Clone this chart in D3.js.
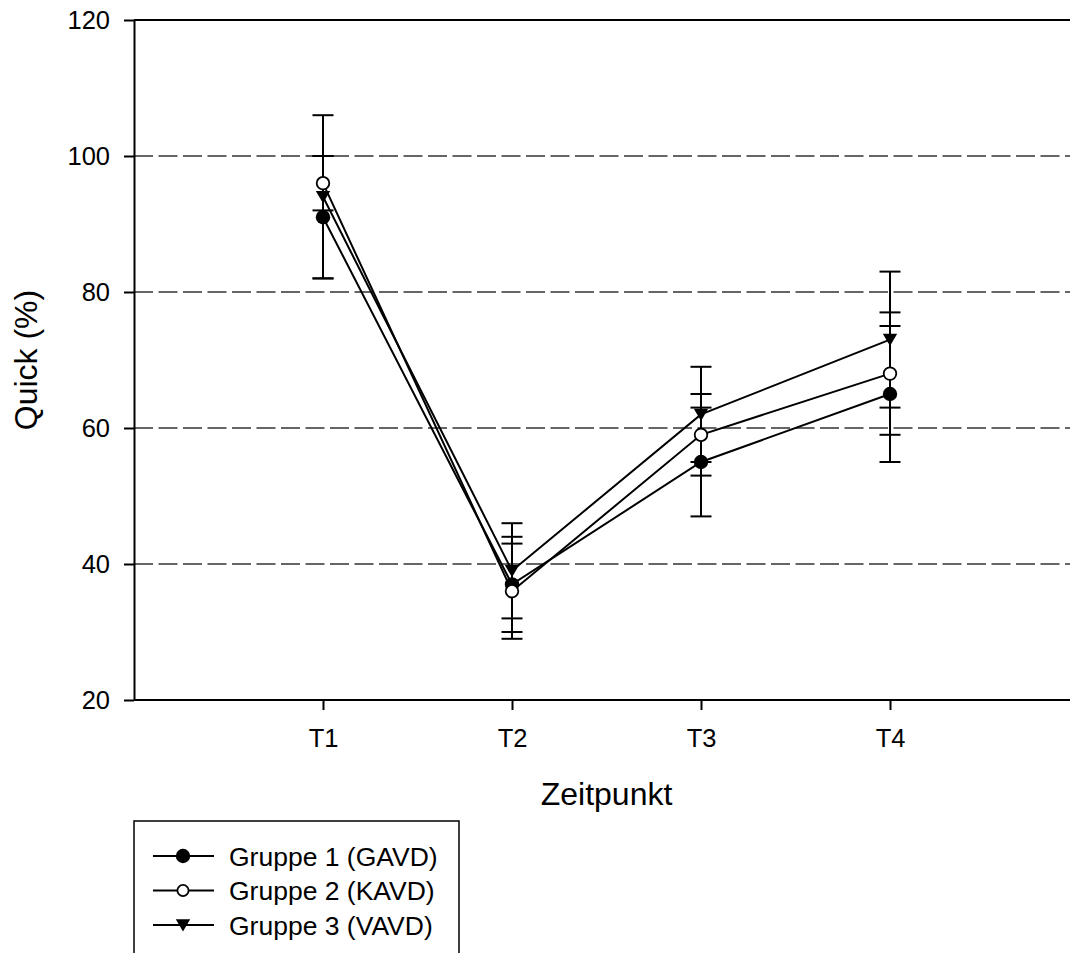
<!DOCTYPE html>
<html>
<head>
<meta charset="utf-8">
<script src="https://cdn.jsdelivr.net/npm/d3@7"></script>
<style>
  body { margin: 0; background: #fff; }
  svg { display: block; font-family: Arial, "Liberation Sans", sans-serif; }
</style>
</head>
<body>
<svg class="chart" width="1070" height="953"></svg>
<script>
// data
const timepoints = ['T1', 'T2', 'T3', 'T4'];
const groupNames = ['Gruppe 1 (GAVD)', 'Gruppe 2 (KAVD)', 'Gruppe 3 (VAVD)'];
const gavdMean = [91, 37, 55, 65];
const gavdErr = [9, 7, 8, 10];
const kavdMean = [96, 36, 59, 68];
const kavdErr = [4, 7, 6, 9];
const vavdMean = [94, 39, 62, 73];
const vavdErr = [12, 7, 7, 10];
const yTicks = [20, 40, 60, 80, 100, 120];
const gridValues = [40, 60, 80, 100];

const series = [
    { name: groupNames[0], mean: gavdMean, err: gavdErr, symbol: 'filled' },
    { name: groupNames[1], mean: kavdMean, err: kavdErr, symbol: 'open' },
    { name: groupNames[2], mean: vavdMean, err: vavdErr, symbol: 'triangle' }
];

const svg = d3.select('svg.chart');
const W = 1070;

const x = d3.scaleLinear().domain([0, timepoints.length + 1]).range([134, 1079]);
const y = d3.scaleLinear().domain([20, 120]).range([700, 20]);

// dashed grid lines
svg.append('g')
    .selectAll('line')
    .data(gridValues)
    .join('line')
    .attr('x1', x(0))
    .attr('x2', W)
    .attr('y1', (d) => y(d))
    .attr('y2', (d) => y(d))
    .attr('stroke', '#333')
    .attr('stroke-width', 1.6)
    .attr('stroke-dasharray', '19,5.5');

// top border
svg.append('line')
    .attr('x1', x(0)).attr('x2', W)
    .attr('y1', y(120)).attr('y2', y(120))
    .attr('stroke', '#000').attr('stroke-width', 2);

// y axis
const yAxis = svg.append('g')
    .attr('transform', `translate(${x(0)},0)`)
    .call(d3.axisLeft(y).tickValues(yTicks).tickSize(10).tickSizeOuter(0).tickPadding(14));
yAxis.selectAll('path, line').attr('stroke', '#000').attr('stroke-width', 2);
yAxis.selectAll('text').attr('font-size', 25.5).attr('fill', '#000')
    .attr('font-family', 'Arial, "Liberation Sans", sans-serif');

// x axis
const xAxis = svg.append('g')
    .attr('transform', `translate(0,${y(20)})`)
    .call(d3.axisBottom(x)
        .tickValues(timepoints.map((t, i) => i + 1))
        .tickFormat((d) => timepoints[d - 1])
        .tickSize(10).tickSizeOuter(0).tickPadding(19));
xAxis.select('.domain').attr('d', `M${x(0)},0H${W}`);
xAxis.selectAll('path, line').attr('stroke', '#000').attr('stroke-width', 2);
xAxis.selectAll('text').attr('font-size', 25.5).attr('fill', '#000')
    .attr('font-family', 'Arial, "Liberation Sans", sans-serif');

// axis titles
svg.append('text')
    .attr('x', (x(0) + x(timepoints.length + 1)) / 2)
    .attr('y', 805)
    .attr('text-anchor', 'middle')
    .attr('font-size', 32)
    .text('Zeitpunkt');

svg.append('text')
    .attr('transform', `translate(37,${(y(20) + y(120)) / 2}) rotate(-90)`)
    .attr('text-anchor', 'middle')
    .attr('font-size', 32)
    .text('Quick (%)');

// lines
const line = d3.line()
    .x((d, i) => x(i + 1))
    .y((d) => y(d));

svg.append('g')
    .selectAll('path')
    .data(series)
    .join('path')
    .attr('d', (s) => line(s.mean))
    .attr('fill', 'none')
    .attr('stroke', '#000')
    .attr('stroke-width', 2);

// error bars
const capHalf = 10.5;
series.forEach((s) => {
    const g = svg.append('g').attr('stroke', '#000').attr('stroke-width', 2);
    const pts = s.mean.map((m, i) => ({ i: i + 1, lo: m - s.err[i], hi: m + s.err[i] }));
    g.selectAll('.error-line')
        .data(pts)
        .join('line')
        .attr('class', 'error-line')
        .attr('x1', (d) => x(d.i)).attr('x2', (d) => x(d.i))
        .attr('y1', (d) => y(d.lo)).attr('y2', (d) => y(d.hi));
    g.selectAll('.cap-lo')
        .data(pts)
        .join('line')
        .attr('class', 'cap-lo')
        .attr('x1', (d) => x(d.i) - capHalf).attr('x2', (d) => x(d.i) + capHalf)
        .attr('y1', (d) => y(d.lo)).attr('y2', (d) => y(d.lo));
    g.selectAll('.cap-hi')
        .data(pts)
        .join('line')
        .attr('class', 'cap-hi')
        .attr('x1', (d) => x(d.i) - capHalf).attr('x2', (d) => x(d.i) + capHalf)
        .attr('y1', (d) => y(d.hi)).attr('y2', (d) => y(d.hi));
});

// markers
function drawMarker(g, type, cx, cy, r) {
    if (type === 'triangle') {
        g.append('path')
            .attr('d', `M${cx - r},${cy - r * 0.8}L${cx + r},${cy - r * 0.8}L${cx},${cy + r * 0.9}Z`)
            .attr('fill', '#000');
    } else if (type === 'filled') {
        g.append('circle')
            .attr('cx', cx).attr('cy', cy).attr('r', r)
            .attr('fill', '#000');
    } else {
        g.append('circle')
            .attr('cx', cx).attr('cy', cy).attr('r', r - 0.9)
            .attr('fill', '#fff')
            .attr('stroke', '#000')
            .attr('stroke-width', 1.8);
    }
}

const markers = svg.append('g');
series.forEach((s) => {
    s.mean.forEach((m, i) => drawMarker(markers, s.symbol, x(i + 1), y(m), 7.2));
});

// legend
const legend = svg.append('g');
legend.append('rect')
    .attr('x', 134).attr('y', 821)
    .attr('width', 325).attr('height', 200)
    .attr('fill', 'none')
    .attr('stroke', '#000')
    .attr('stroke-width', 1.5);

series.forEach((s, k) => {
    const ly = 856 + k * 34.5;
    legend.append('line')
        .attr('x1', 153).attr('x2', 214)
        .attr('y1', ly).attr('y2', ly)
        .attr('stroke', '#000').attr('stroke-width', 2);
    drawMarker(legend, s.symbol, 183, ly, s.symbol === 'open' ? 6.5 : 7.2);
    legend.append('text')
        .attr('x', 229)
        .attr('y', ly)
        .attr('dy', '0.36em')
        .attr('font-size', 26.5)
        .text(s.name);
});
</script>
</body>
</html>
